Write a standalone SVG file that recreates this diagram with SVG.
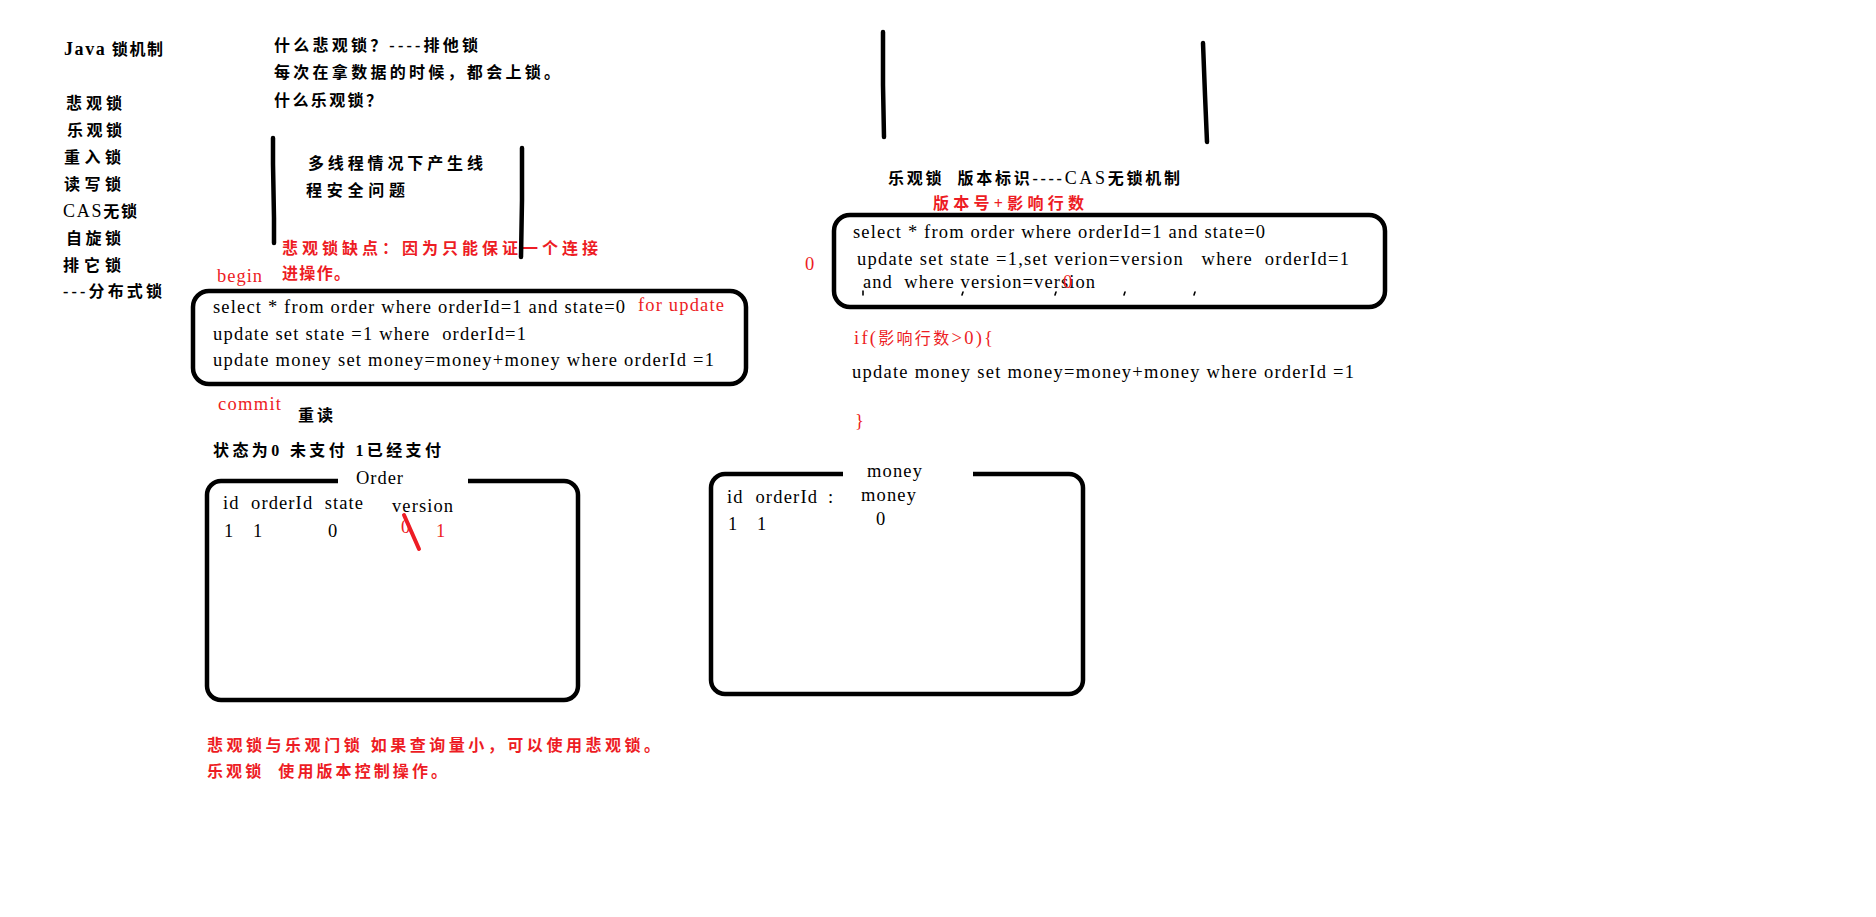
<svg xmlns="http://www.w3.org/2000/svg" width="1876" height="917" viewBox="0 0 1876 917">
  <style>
    text { font-family: "Liberation Serif", "Noto Sans CJK SC", serif; font-size: 16px; fill: #000; white-space: pre; }
    .cn { font-size: 16px; font-weight: bold; }
    .code { font-size: 18.5px; }
    .red { fill: #ed1c24; }
    .box { fill: none; stroke: #000; stroke-width: 4.5; }
    .bar { fill: none; stroke: #000; stroke-width: 4.5; stroke-linecap: round; stroke-linejoin: round; }
    .tick { fill: none; stroke: #000; stroke-width: 1.6; stroke-linecap: round; }
  </style>
  <rect width="1876" height="917" fill="#fff"/>

  <!-- lock type list -->
  <g id="lock-list">
    <text class="cn" x="64" y="54.5" textLength="99"><tspan font-size="18">Java</tspan> 锁机制</text>
    <text class="cn" x="66" y="108.5" textLength="56">悲观锁</text>
    <text class="cn" x="67" y="135.5" textLength="55">乐观锁</text>
    <text class="cn" x="64" y="162.5" textLength="57">重入锁</text>
    <text class="cn" x="64" y="189.5" textLength="57">读写锁</text>
    <text class="cn" x="63" y="216.5" textLength="74"><tspan font-size="18" font-weight="normal">CAS</tspan>无锁</text>
    <text class="cn" x="66" y="243.5" textLength="55">自旋锁</text>
    <text class="cn" x="63" y="270.5" textLength="58">排它锁</text>
    <text class="cn" x="63" y="296.5" textLength="99">---分布式锁</text>
  </g>

  <!-- pessimistic lock notes -->
  <g id="pessimistic-notes">
    <text class="cn" x="274" y="50.5" textLength="204">什么悲观锁？----排他锁</text>
    <text class="cn" x="274" y="77.5" textLength="286">每次在拿数据的时候，都会上锁。</text>
    <text class="cn" x="274" y="105.5" textLength="108">什么乐观锁？</text>
    <text class="cn" x="308" y="168.5" textLength="175">多线程情况下产生线</text>
    <text class="cn" x="306" y="195.5" textLength="99">程安全问题</text>
    <text class="cn red" x="282" y="253.5" textLength="316">悲观锁缺点：因为只能保证一个连接</text>
    <text class="cn red" x="282" y="278.5" textLength="68">进操作。</text>
  </g>

  <!-- hand-drawn vertical strokes -->
  <g id="strokes">
    <path class="bar" d="M273,138 L273,164 L274,218 L274,243"/>
    <path class="bar" d="M522,148 L522,200 L521,257"/>
    <path class="bar" d="M883,32 L883,85 L884,137"/>
    <path class="bar" d="M1203,43 L1205,95 L1207,142"/>
  </g>

  <!-- pessimistic transaction -->
  <g id="pessimistic-tx">
    <text class="code red" x="217" y="282" textLength="45">begin</text>
    <rect class="box" x="193" y="291" width="553" height="93" rx="16"/>
    <text class="code" x="213" y="313" textLength="412">select * from order where orderId=1 and state=0</text>
    <text class="code red" x="638" y="311" textLength="86">for update</text>
    <text class="code" x="213" y="340" textLength="313">update set state =1 where  orderId=1</text>
    <text class="code" x="213" y="366" textLength="501">update money set money=money+money where orderId =1</text>
    <text class="code red" x="218" y="410" textLength="63">commit</text>
    <text class="cn" x="298" y="420.5" textLength="35">重读</text>
    <text class="cn" x="213" y="455.5" textLength="228">状态为0 未支付 1已经支付</text>
  </g>

  <!-- Order table -->
  <g id="order-table">
    <path class="box" d="M338,481 H221 A14,14 0 0 0 207,495 V686 A14,14 0 0 0 221,700 H564 A14,14 0 0 0 578,686 V495 A14,14 0 0 0 564,481 H468"/>
    <text class="code" x="356" y="484" textLength="47">Order</text>
    <text class="code" x="223" y="509" textLength="140">id  orderId  state</text>
    <text class="code" x="392" y="512" textLength="61">version</text>
    <text class="code" x="224" y="537">1</text>
    <text class="code" x="253" y="537">1</text>
    <text class="code" x="328" y="537">0</text>
    <text class="code red" x="401" y="533">0</text>
    <text class="code red" x="436" y="537">1</text>
    <path d="M404,515 L419,549" fill="none" stroke="#ed1c24" stroke-width="4" stroke-linecap="round"/>
  </g>

  <!-- money table -->
  <g id="money-table">
    <path class="box" d="M843,474 H725 A14,14 0 0 0 711,488 V680 A14,14 0 0 0 725,694 H1069 A14,14 0 0 0 1083,680 V488 A14,14 0 0 0 1069,474 H973"/>
    <text class="code" x="867" y="477" textLength="55">money</text>
    <text class="code" x="727" y="503" textLength="90">id  orderId</text>
    <text class="code" x="828" y="503" font-size="9">:</text>
    <text class="code" x="861" y="501" textLength="55">money</text>
    <text class="code" x="728" y="530">1</text>
    <text class="code" x="757" y="530">1</text>
    <text class="code" x="876" y="525">0</text>
  </g>

  <!-- optimistic transaction -->
  <g id="optimistic-tx">
    <text class="cn" x="888" y="183.5" textLength="292">乐观锁  版本标识----<tspan font-size="18" font-weight="normal">CAS</tspan>无锁机制</text>
    <text class="cn red" x="933" y="208.5" textLength="151">版本号+影响行数</text>
    <text class="code red" x="805" y="270">0</text>
    <rect class="box" x="834" y="215" width="551" height="92" rx="16"/>
    <text class="code" x="853" y="238" textLength="412">select * from order where orderId=1 and state=0</text>
    <text class="code" x="857" y="265" textLength="492">update set state =1,set verion=version   where  orderId=1</text>
    <text class="code" x="863" y="288" textLength="232">and  where version=version</text>
    <text class="code red" x="1063" y="288">0</text>
    <path class="tick" d="M863,291 V295 M963,292 L962,295 M1056,292 L1055,295 M1125,292 L1124,295 M1195,292 L1194,295"/>
    <text class="code red" x="854" y="344" textLength="139">if(<tspan font-size="16">影响行数</tspan>&gt;0){</text>
    <text class="code" x="852" y="378" textLength="502">update money set money=money+money where orderId =1</text>
    <text class="code red" x="855" y="427" font-size="21">}</text>
  </g>

  <!-- summary -->
  <g id="summary">
    <text class="cn red" x="207" y="750.5" textLength="453">悲观锁与乐观门锁 如果查询量小，可以使用悲观锁。</text>
    <text class="cn red" x="207" y="776.5" textLength="240">乐观锁  使用版本控制操作。</text>
  </g>
</svg>
